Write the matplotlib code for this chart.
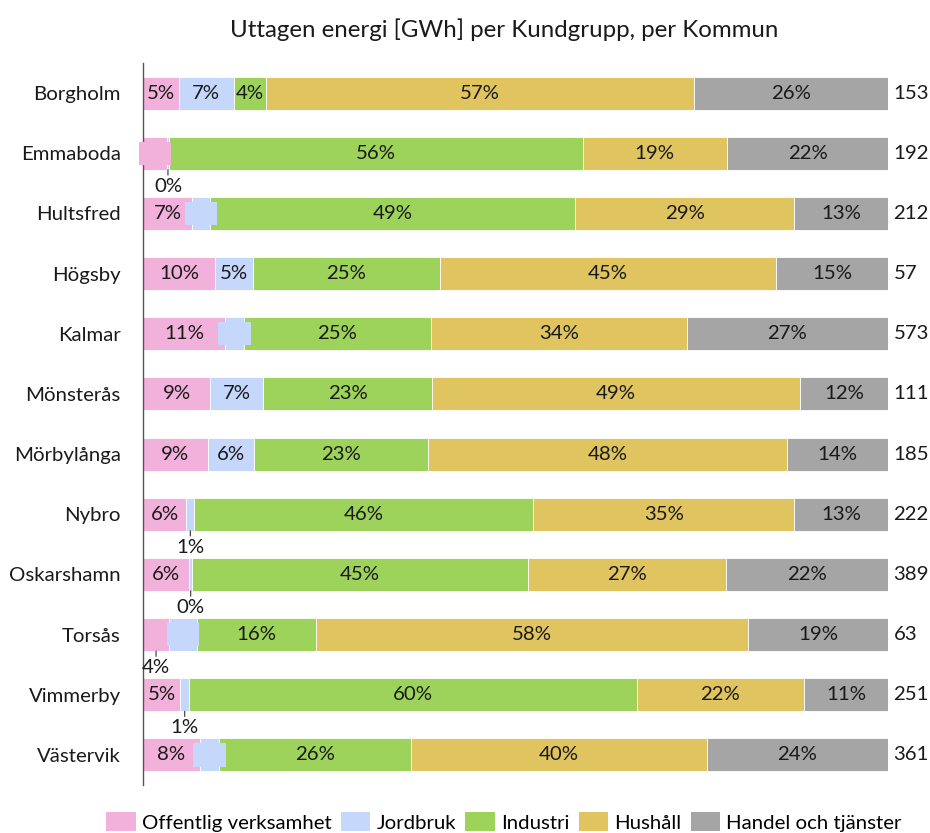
import matplotlib
matplotlib.use("Agg")
import matplotlib.pyplot as plt
from matplotlib.patches import Patch
import numpy as np

plt.rcParams['font.family'] = ['Lato', 'DejaVu Sans']

kommuner = ["Borgholm", "Emmaboda", "Hultsfred", "Högsby", "Kalmar", "Mönsterås",
            "Mörbylånga", "Nybro", "Oskarshamn", "Torsås", "Vimmerby", "Västervik"]
groups = ["Offentlig verksamhet", "Jordbruk", "Industri", "Hushåll", "Handel och tjänster"]
colors = ["#F2B1DB", "#C5D7FB", "#9DD35A", "#DFC45F", "#A5A5A5"]

offentlig = [4.8, 3.2, 6.6, 9.7, 11.0, 9.0, 8.7, 5.8, 6.2, 3.5, 5.0, 7.6]
jordbruk  = [7.4, 0.3, 2.4, 5.0, 2.6, 7.1, 6.2, 1.1, 0.4, 3.7, 1.2, 2.6]
industri  = [4.3, 55.5, 49.0, 25.1, 25.0, 22.7, 23.4, 45.5, 45.1, 16.0, 60.1, 25.8]
hushall   = [57.4, 19.4, 29.4, 45.2, 34.4, 49.4, 48.1, 35.0, 26.6, 58.0, 22.4, 39.7]
handel    = [26.1, 21.6, 12.6, 15.0, 27.0, 11.8, 13.6, 12.6, 21.7, 18.8, 11.3, 24.3]
totals    = [153, 192, 212, 57, 573, 111, 185, 222, 389, 63, 251, 361]

series = [offentlig, jordbruk, industri, hushall, handel]

fig = plt.figure(figsize=(9.3, 8.33), dpi=100)
ax = fig.add_axes([143/930, 1 - 785/833, (888 - 143)/930, (785 - 63)/833])

y = np.arange(len(kommuner))
left = np.zeros(len(kommuner))
fs = 14.7
tc = "#1a1a1a"
for si, (vals, col) in enumerate(zip(series, colors)):
    vals = np.array(vals, dtype=float)
    ax.barh(y, vals, left=left, height=0.55, color=col, edgecolor="white", linewidth=0.6)
    for i, v in enumerate(vals):
        cx = left[i] + v / 2
        lab = f"{int(round(v))}%"
        if v >= 4.0:
            ax.text(cx, y[i], lab, ha="center", va="center", fontsize=fs, color=tc)
        elif v >= 2.0 and not (si == 0 and kommuner[i] == "Torsås"):
            ax.text(cx, y[i], lab, ha="center", va="center", fontsize=fs * 0.9,
                    color=col, bbox=dict(boxstyle="square,pad=0.2", fc=col, ec="none"))
        else:
            ax.annotate(lab, xy=(cx, y[i] + 0.275), xytext=(cx, y[i] + 0.55),
                        ha="center", va="center", fontsize=fs, color=tc,
                        arrowprops=dict(arrowstyle="-", color="#333333", lw=0.8,
                                        shrinkA=7, shrinkB=0))
    left += vals

for i, t in enumerate(totals):
    ax.annotate(str(t), xy=(1, y[i]), xycoords=("axes fraction", "data"),
                xytext=(4, 0), textcoords="offset points", ha="left", va="center",
                fontsize=fs, color=tc)

ax.set_xlim(0, 100)
ax.set_ylim(len(kommuner) - 0.5, -0.5)
ax.set_yticks(y)
ax.set_yticklabels(kommuner, fontsize=fs, color=tc)
ax.tick_params(axis="y", length=0, pad=16)
ax.set_xticks([])
for s in ["top", "right", "bottom"]:
    ax.spines[s].set_visible(False)
ax.spines["left"].set_color("#555555")
ax.spines["left"].set_linewidth(1.0)

fig.text(504/930, 1 - 30/833, "Uttagen energi [GWh] per Kundgrupp, per Kommun",
         ha="center", va="center", fontsize=17.3, color=tc)

handles = [Patch(facecolor=c, edgecolor="none") for c in colors]
fig.legend(handles, groups, loc="center", bbox_to_anchor=(504/930, 1 - 822/833), ncol=5,
           frameon=False, fontsize=fs, handlelength=1.45, handleheight=1.05,
           handletextpad=0.3, columnspacing=0.45, borderaxespad=0, borderpad=0)

fig.savefig("out.png", dpi=100)
